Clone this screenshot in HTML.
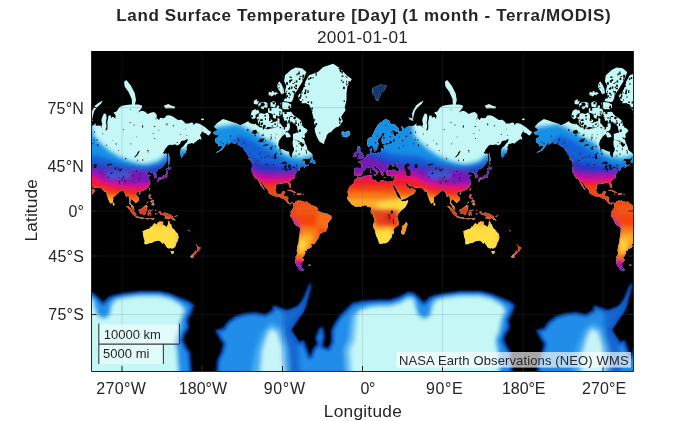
<!DOCTYPE html>
<html><head><meta charset="utf-8">
<style>
html,body{margin:0;padding:0;background:#fff;}
body{width:700px;height:421px;overflow:hidden;position:relative;font-family:"Liberation Sans",Arial,sans-serif;color:#262626;}
svg{position:absolute;left:0;top:0;}
text{font-family:"Liberation Sans",Arial,sans-serif;fill:#262626;}
</style></head>
<body>
<svg id="fig" width="700" height="421" viewBox="0 0 700 421">
<defs>
<clipPath id="mapclip"><rect x="91.5" y="51" width="542" height="320"/></clipPath>
<filter id="soft" x="0" y="0" width="100%" height="100%"><feGaussianBlur stdDeviation="0.55"/></filter>
</defs>
<rect x="91.5" y="51" width="542" height="320" fill="#000"/>
<g id="map" clip-path="url(#mapclip)"><g filter="url(#soft)">
<defs><clipPath id="land"><path d="M212.8 132.8L216.4 130.6L218.1 131.5L216.8 129.2L213.9 126.7L217.2 122.9L223.0 118.9L227.1 120.3L230.6 121.6L236.9 123.4L240.4 125.2L242.2 124.2L244.0 123.4L248.4 121.1L249.3 122.4L252.0 123.9L254.7 122.9L260.0 127.6L264.5 127.6L266.3 128.5L268.0 126.7L271.6 127.4L275.2 127.4L277.0 126.2L277.0 122.4L277.8 117.2L280.1 119.7L280.5 123.4L282.3 126.2L284.1 127.4L285.0 128.5L286.3 123.7L289.4 122.9L290.1 126.2L289.4 129.7L287.6 131.3L285.9 131.3L285.0 134.1L282.3 136.2L281.4 137.2L279.6 140.1L278.7 142.0L278.3 144.6L278.7 145.9L280.1 148.9L282.3 148.9L284.1 150.0L286.8 151.3L289.2 151.8L289.4 155.1L290.3 156.6L291.2 157.6L292.1 156.9L292.1 154.4L292.5 152.8L293.9 150.5L293.9 148.1L293.0 146.4L292.5 142.5L293.1 139.3L295.1 139.7L298.3 141.0L300.5 142.0L300.1 144.6L301.9 146.9L303.7 146.0L304.1 144.6L305.1 143.0L306.8 146.4L307.5 149.7L309.0 151.3L310.8 152.5L311.7 153.6L312.6 155.1L312.6 156.6L311.3 157.4L309.0 159.1L306.4 159.1L303.3 159.1L302.4 160.4L301.0 161.4L299.2 163.6L300.6 162.8L302.8 160.8L305.2 160.9L304.6 162.1L304.4 163.4L305.5 164.7L307.7 165.0L309.0 164.1L308.6 165.4L305.9 166.5L304.0 168.0L303.7 166.6L305.0 165.5L302.8 166.3L301.0 167.2L299.9 167.7L299.5 169.1L300.1 170.0L298.8 170.4L296.6 171.3L296.4 172.5L295.7 173.2L295.2 174.3L294.8 175.5L295.2 177.5L294.2 178.1L293.0 178.9L291.9 179.6L291.2 180.1L290.1 181.4L290.0 182.6L290.8 184.5L291.1 186.2L291.0 187.6L290.3 187.9L289.6 186.9L288.8 185.2L288.7 184.0L287.5 183.0L286.1 182.9L284.1 182.6L282.9 183.8L281.4 183.7L278.9 183.3L278.0 183.7L275.8 185.2L275.9 187.1L275.3 190.7L275.9 192.3L276.9 193.6L278.4 194.6L280.7 194.1L281.9 193.0L281.9 191.9L282.7 191.6L285.0 191.4L285.2 192.3L284.5 193.3L284.1 194.2L283.9 195.2L283.5 196.7L285.9 196.6L287.6 196.7L288.4 197.5L288.1 198.9L287.9 200.2L287.9 201.1L288.5 202.0L289.4 202.9L290.3 203.1L291.3 202.6L292.2 202.5L293.6 203.3L294.0 203.7L293.5 204.0L292.8 203.6L292.5 202.9L291.7 202.9L290.9 203.7L291.0 204.4L290.4 204.6L289.8 204.0L289.0 203.7L288.0 203.4L286.8 202.2L286.0 201.6L286.0 201.0L284.3 199.3L282.5 198.8L280.3 197.8L278.7 196.6L277.8 196.4L276.5 196.8L273.5 195.8L271.4 194.7L269.6 193.7L268.3 192.4L268.7 191.4L267.7 189.7L266.3 188.2L265.0 187.4L263.7 185.1L262.5 184.0L261.4 181.6L260.2 181.1L260.2 181.9L260.9 183.5L262.0 185.0L263.1 187.0L263.9 188.8L264.9 189.7L264.6 190.0L264.0 189.4L262.7 188.5L262.4 187.0L261.4 186.2L260.0 185.2L260.7 184.4L259.3 183.0L258.6 181.0L258.1 180.1L256.9 178.7L255.1 178.2L253.9 175.9L253.3 174.6L252.2 172.9L251.6 171.6L251.9 169.9L251.6 168.7L252.0 166.6L252.0 164.5L251.4 161.6L252.9 161.7L253.3 163.0L253.4 161.4L252.8 160.4L251.6 159.4L250.2 158.3L248.9 157.6L248.4 155.8L247.1 154.4L246.4 153.1L245.8 151.8L244.4 150.5L243.5 148.1L242.2 146.9L240.9 146.7L239.5 145.5L238.0 144.5L236.0 143.8L234.2 143.8L232.7 142.9L231.5 142.0L230.3 142.9L229.4 143.8L227.2 145.2L227.9 142.9L229.0 141.6L227.5 142.0L226.6 143.4L225.7 144.6L224.8 145.9L223.5 148.1L221.3 150.5L219.0 151.6L217.2 152.4L215.9 152.7L217.2 151.4L219.5 150.5L221.7 148.1L222.6 146.0L221.3 145.9L219.9 146.0L218.1 146.2L218.1 143.8L215.9 142.9L215.0 140.1L215.7 138.2L218.1 137.2L219.0 135.3L217.2 134.9L215.1 135.1L214.1 133.7ZM252.5 161.6L251.1 161.2L248.6 159.3L248.1 158.3L249.8 158.7L251.6 160.1ZM309.7 162.6L311.7 162.6L313.5 163.6L315.3 163.8L315.5 162.6L314.8 161.3L314.4 160.2L312.9 159.5L312.6 158.0L313.0 157.1L311.9 157.7L311.0 159.7L309.9 161.4ZM286.8 191.0L288.5 189.9L290.3 189.8L292.1 190.4L293.9 191.2L295.2 192.1L296.4 192.6L295.2 192.9L293.3 192.9L293.7 192.2L292.5 191.7L290.8 190.9L289.4 190.6L288.1 190.8ZM296.2 194.3L297.4 194.5L298.8 195.0L300.1 194.4L301.5 194.3L301.0 193.5L299.7 193.0L298.3 192.9L297.2 192.9L297.7 193.7L297.0 194.1ZM292.7 194.4L293.9 194.9L294.6 194.7L293.9 194.2ZM302.6 194.7L304.0 194.7L304.0 194.2L302.6 194.2ZM250.7 116.9L252.9 119.2L255.1 118.3L257.8 114.0L259.6 112.4L258.2 109.8L254.7 109.2L252.0 110.8L250.9 114.0ZM257.8 122.4L259.1 124.9L261.8 126.2L266.3 125.7L268.9 124.9L272.1 123.4L272.5 120.3L269.4 118.3L268.9 114.0L267.2 112.4L264.5 114.0L260.9 113.0L257.8 114.6L256.5 118.1L257.8 120.3ZM272.9 117.5L275.6 118.9L276.5 114.6L275.6 111.5L272.9 111.5L271.6 114.0ZM277.4 116.3L279.6 116.3L281.9 114.0L281.4 110.8L278.3 110.5L277.1 112.4ZM274.3 124.2L277.0 125.9L277.4 123.7L276.1 122.4ZM258.7 106.8L262.7 109.2L267.2 107.8L268.0 103.9L265.4 101.7L260.9 102.0L258.2 103.9ZM270.7 106.8L275.2 107.5L276.1 102.8L273.4 100.9L270.3 102.8ZM276.5 108.5L279.2 108.5L279.2 105.4L277.0 105.4ZM280.5 108.2L284.1 109.2L289.4 109.2L291.2 107.5L291.2 104.6L287.6 102.4L283.2 102.0L280.5 102.8ZM304.6 140.3L303.7 138.2L305.0 137.2L304.6 134.1L306.4 132.4L307.7 130.6L305.9 128.5L303.7 127.4L301.9 123.7L301.4 121.1L299.2 118.9L296.1 116.9L293.0 114.6L291.2 111.8L286.8 112.1L282.3 111.5L282.7 116.3L283.6 119.7L285.9 121.9L287.2 122.4L289.4 122.4L291.7 121.6L293.0 122.9L294.8 124.2L297.0 126.2L297.4 129.2L297.4 130.8L296.1 133.0L293.0 134.1L293.9 135.5L296.1 134.9L298.3 137.2L299.7 138.5L301.0 139.3L303.2 140.3L301.5 136.8L303.7 138.2ZM285.0 133.7L286.3 137.2L288.1 137.6L290.8 136.8L290.3 135.1L288.1 132.4L286.3 131.9ZM291.2 102.0L287.6 101.7L283.6 100.9L285.0 98.1L286.8 96.0L285.0 91.5L286.3 85.6L284.1 81.2L285.0 75.2L291.2 69.8L295.7 67.6L301.9 68.3L306.4 71.9L303.7 79.5L301.0 84.0L297.4 90.1L294.8 93.8L293.4 97.7L292.5 100.5ZM277.4 87.6L281.4 94.2L284.1 93.3L283.6 88.6L281.4 84.0L279.2 81.2L277.4 84.5ZM268.5 95.1L271.6 96.4L274.3 94.7L277.0 96.0L277.8 93.3L275.2 91.5L272.5 90.1L268.9 91.5ZM253.8 103.9L257.3 104.6L259.1 100.9L256.5 98.9L253.8 100.9ZM323.3 144.1L321.5 142.7L319.7 142.0L317.9 139.1L316.4 135.7L315.1 131.9L314.6 128.5L316.2 125.7L313.9 123.7L314.4 121.1L313.5 118.3L312.6 114.6L311.3 109.2L309.0 104.6L305.5 103.2L301.5 103.2L299.2 99.3L297.4 95.1L301.9 91.5L303.7 87.6L305.5 81.2L309.0 75.2L317.9 71.9L323.3 66.9L333.1 63.8L340.2 68.3L346.5 75.2L351.8 78.9L347.4 86.6L346.5 93.8L346.5 100.1L344.7 107.5L345.6 110.2L342.9 114.0L341.1 116.9L342.9 121.1L341.1 123.4L339.3 126.2L335.8 127.4L333.1 129.7L331.3 131.9L329.0 132.8L326.9 135.1L326.0 138.2L324.6 141.0L324.2 143.4ZM341.1 133.0L342.9 131.1L344.7 132.6L346.5 131.5L348.2 130.8L349.6 131.3L350.4 134.1L349.1 135.7L346.0 137.4L343.8 136.6L342.3 136.6L342.9 134.9L341.1 134.3L342.4 133.4ZM258.2 122.9L261.8 128.1L268.0 129.0L275.2 127.8L277.8 126.2L277.0 121.1L272.5 122.4L268.9 124.2L261.8 124.9ZM293.0 138.9L298.3 141.4L301.0 142.9L304.6 144.1L305.0 142.0L303.7 139.1L300.1 137.8L296.6 134.5L293.0 133.7ZM268.0 112.4L277.0 115.5L282.3 112.4L282.3 108.8L276.1 107.8L268.0 108.2ZM294.0 203.7L295.1 202.6L295.7 201.3L296.6 201.0L298.1 200.4L298.8 199.9L298.8 201.1L298.5 202.5L299.2 202.5L299.2 201.3L300.1 200.7L300.3 200.1L301.5 200.9L301.9 201.6L303.7 201.5L305.0 201.9L307.3 201.4L307.7 202.2L308.3 203.4L309.9 203.8L311.3 205.4L313.5 205.7L314.8 206.1L316.2 207.0L317.1 207.4L317.9 209.4L317.9 210.7L319.3 211.2L319.7 211.7L321.5 211.9L322.8 213.1L325.1 213.5L326.9 213.5L328.2 214.3L329.4 215.3L331.0 215.6L331.5 217.3L331.3 219.1L330.0 220.4L329.1 221.6L328.2 222.7L327.7 224.5L327.7 226.8L327.1 228.7L326.1 230.9L325.1 232.1L323.7 232.1L322.7 232.4L321.2 233.0L319.9 234.2L319.2 235.5L319.1 237.3L317.9 238.8L316.6 240.6L315.7 242.2L314.8 243.5L313.6 244.2L312.2 244.1L310.5 243.3L311.4 244.9L311.7 246.1L311.1 247.7L309.0 248.6L307.2 248.8L307.0 250.5L305.5 251.1L304.6 251.1L305.6 252.9L304.6 253.9L304.1 256.0L302.5 257.0L302.4 258.0L303.7 259.2L303.9 260.2L302.4 261.9L301.0 263.7L301.5 265.9L300.6 266.2L299.2 268.1L298.3 267.6L297.0 266.6L296.1 264.7L295.4 262.6L295.2 259.9L296.1 258.3L295.2 257.3L296.6 255.4L297.4 252.3L296.7 251.1L296.9 249.4L297.2 246.8L297.7 244.9L298.6 242.7L298.8 240.1L298.9 238.0L299.3 236.0L299.7 234.0L299.8 232.1L300.0 230.1L299.9 227.7L298.9 226.8L297.4 226.0L295.5 224.9L294.4 223.4L293.7 221.8L292.8 220.0L292.1 218.3L291.3 217.1L290.1 216.4L290.1 215.0L290.9 214.0L291.2 213.2L290.4 213.0L290.5 211.9L291.2 210.9L291.2 210.2L292.2 209.8L292.5 208.8L293.4 208.6L293.7 207.6L293.4 206.1L293.5 204.9L293.1 204.6L293.5 204.0ZM301.4 266.5L299.7 266.9L299.2 268.4L298.3 268.9L300.1 270.2L301.9 270.9L303.7 270.2L304.4 269.5L302.8 268.4L301.7 267.2ZM307.9 265.0L309.5 264.4L311.0 264.9L309.9 265.9L308.3 265.7ZM357.7 176.5L356.9 176.0L355.9 175.2L354.5 175.5L354.7 173.9L354.1 173.5L354.6 172.0L354.7 170.6L354.2 168.5L355.0 168.0L357.3 167.7L359.1 167.9L361.2 167.9L361.4 166.4L361.4 164.5L360.5 163.2L358.7 162.4L358.3 161.6L359.8 161.0L360.7 161.3L361.1 159.8L362.6 160.1L363.9 159.0L364.1 158.0L365.4 157.4L366.1 156.6L366.7 155.1L367.8 154.5L368.8 154.5L369.6 154.1L370.3 153.6L370.2 152.2L369.9 151.3L369.8 149.2L371.0 148.6L371.9 147.7L371.7 150.2L371.2 151.6L371.4 152.8L372.1 153.6L373.2 153.3L374.5 152.8L375.2 153.8L376.8 153.1L378.8 152.4L379.2 153.0L380.3 152.5L381.2 151.0L381.2 149.7L381.7 148.1L382.6 147.7L383.2 148.9L383.9 148.9L384.2 146.9L383.4 145.9L383.4 145.2L384.5 144.8L386.1 144.6L387.5 144.6L388.3 143.9L389.2 143.8L388.1 142.5L386.6 142.9L384.8 143.4L383.0 143.9L382.1 143.0L381.6 142.0L381.7 138.2L382.6 136.6L384.3 134.5L385.1 134.1L384.1 132.4L382.3 132.8L381.7 135.1L380.6 136.6L379.0 138.2L377.9 139.3L377.8 142.5L379.2 143.8L378.6 145.0L377.5 146.4L377.1 149.4L376.4 150.2L375.2 151.3L374.1 151.4L373.9 149.7L373.2 147.7L372.5 145.9L372.0 143.9L371.0 145.5L369.6 147.1L368.4 147.1L367.6 145.5L367.2 143.0L367.0 141.0L367.9 139.1L369.6 137.6L371.8 137.0L372.7 134.5L374.1 131.9L375.3 129.0L376.8 126.7L378.1 124.4L379.4 123.2L381.7 121.9L383.4 120.3L385.5 119.2L387.5 119.7L390.1 121.3L389.2 123.2L391.9 123.9L394.6 124.4L397.3 126.9L399.0 129.2L399.0 131.5L396.8 131.7L393.7 130.4L391.5 129.7L393.2 132.8L393.5 135.3L395.9 136.6L396.2 134.1L398.6 134.9L398.1 132.8L399.9 131.1L401.7 131.9L402.0 129.7L401.5 126.7L401.1 125.7L403.5 127.4L403.9 129.7L405.3 128.1L407.9 126.4L410.6 126.2L412.0 126.2L414.2 125.2L416.4 123.2L416.4 125.7L420.0 125.4L422.2 126.2L423.1 123.7L422.2 121.1L422.6 118.3L424.0 114.9L424.9 113.3L427.1 114.6L427.4 118.3L426.7 122.4L427.4 126.2L426.2 130.8L428.0 129.7L428.4 126.2L428.0 122.4L428.9 118.3L429.3 115.5L431.6 115.5L432.0 118.3L432.9 116.9L434.7 116.9L436.0 118.9L436.5 115.5L434.2 112.4L437.4 111.5L440.0 107.5L442.7 105.7L447.2 105.0L451.6 104.6L455.4 104.6L458.7 104.6L461.4 105.0L463.2 106.1L462.3 108.2L458.7 112.4L460.5 111.5L463.2 110.8L465.9 111.8L468.5 114.0L472.1 112.4L474.8 112.1L477.5 114.6L477.5 118.1L479.7 120.0L481.0 117.8L483.7 118.3L485.5 118.1L487.3 115.5L489.9 115.2L492.6 116.0L496.2 118.3L498.8 120.0L502.4 119.7L505.1 121.9L506.0 123.4L509.5 123.4L512.2 122.4L514.0 122.9L514.0 124.9L516.7 122.9L520.2 123.7L522.9 125.2L525.6 126.9L527.4 128.5L530.0 130.8L532.1 131.9L530.9 134.1L529.6 135.5L528.2 134.9L526.5 133.2L524.7 133.0L523.8 131.3L522.0 133.0L521.1 135.1L520.7 134.7L522.0 137.8L522.3 139.7L520.2 139.1L518.4 140.5L516.2 142.0L514.3 143.8L512.7 142.9L510.4 143.8L508.6 144.1L507.9 145.9L507.3 147.6L507.8 149.7L506.9 150.5L506.9 152.4L505.1 153.6L504.9 154.8L503.7 155.5L503.0 157.3L502.1 158.0L501.5 155.8L501.2 153.6L501.2 151.3L501.5 148.9L502.4 147.6L504.2 146.2L506.0 143.8L507.8 142.0L508.6 139.5L507.8 139.1L505.5 140.6L504.6 140.6L502.4 141.0L500.6 144.1L499.7 144.8L497.1 145.5L496.9 144.5L495.3 144.5L492.6 145.0L490.1 144.8L488.1 146.2L485.5 149.7L484.6 152.1L483.7 152.5L485.0 154.1L486.8 153.3L488.1 154.7L487.7 156.6L488.1 158.0L487.5 160.8L486.4 162.8L485.5 164.1L483.7 166.4L481.9 168.2L480.1 168.4L479.0 169.1L478.3 169.7L478.1 170.9L476.6 172.0L476.1 173.0L476.9 173.8L477.8 175.5L477.9 177.1L477.5 177.6L476.4 178.0L475.0 178.2L475.1 176.9L475.3 175.5L475.3 174.8L473.9 174.3L474.2 172.9L473.3 172.2L471.7 172.7L470.9 173.3L470.8 172.0L471.2 171.1L470.3 171.1L469.1 172.2L467.7 173.0L467.4 173.8L468.1 174.3L468.5 174.9L469.9 174.7L471.7 175.2L470.8 175.8L469.7 176.6L468.8 177.8L469.7 179.3L470.3 180.3L471.0 181.2L471.0 182.0L470.1 182.6L471.2 183.1L470.9 184.5L470.1 185.0L469.3 186.7L468.7 187.7L467.7 188.5L466.5 189.6L465.0 190.2L464.3 190.6L462.8 191.1L461.4 191.5L460.9 192.5L460.4 192.4L460.3 191.4L459.2 191.2L458.1 191.7L457.5 192.5L456.7 193.9L457.5 195.2L458.3 196.1L459.1 196.7L459.8 198.6L459.8 200.2L458.7 201.3L457.8 201.7L457.4 202.5L455.9 203.3L456.1 202.0L455.2 201.6L454.3 201.0L453.8 200.1L452.5 199.6L452.4 198.9L451.8 198.9L451.5 200.2L451.0 201.6L451.0 202.8L451.6 203.4L452.1 204.6L452.9 204.9L453.7 205.5L454.6 206.7L454.6 207.9L455.4 209.7L455.0 209.8L453.6 209.0L452.8 208.3L452.1 207.0L451.9 206.2L451.8 205.2L450.7 204.3L450.1 203.8L450.3 202.0L450.4 199.9L449.9 198.4L449.6 197.0L449.5 196.1L448.8 195.6L448.0 196.3L447.3 196.7L446.5 196.6L446.6 195.2L446.0 193.7L445.3 192.7L444.5 191.4L444.3 190.6L443.1 190.3L442.7 191.0L441.4 191.2L440.0 191.4L439.8 192.3L439.0 193.0L438.1 193.7L436.7 195.0L435.8 195.7L434.9 196.4L434.1 197.0L433.8 198.4L434.1 199.2L433.6 200.7L433.7 201.8L433.1 202.8L432.2 203.0L431.6 203.8L430.8 202.9L430.4 202.0L429.8 200.7L429.2 199.4L428.7 197.9L428.3 197.0L427.7 195.6L427.4 193.7L427.3 191.7L427.1 190.7L426.7 191.7L425.8 192.1L424.0 190.7L424.9 190.0L423.5 189.4L422.6 189.0L422.2 188.2L420.4 187.7L418.0 187.9L416.0 187.7L414.0 187.4L413.3 186.2L412.7 185.8L411.1 186.4L409.7 186.0L408.4 185.2L407.8 184.1L407.1 183.0L405.7 183.0L405.3 183.6L405.8 184.7L406.7 186.0L407.1 186.6L407.5 187.8L408.1 187.4L408.4 187.0L408.6 188.0L408.2 188.5L409.3 188.8L411.0 188.7L412.0 187.7L412.7 186.8L412.8 188.0L413.3 189.0L414.7 189.3L415.8 190.4L414.9 192.3L413.9 193.1L413.6 193.9L411.8 195.1L410.6 195.6L408.8 196.3L407.9 197.2L406.3 197.9L404.8 198.7L402.6 199.5L401.2 199.6L400.7 197.7L400.4 195.7L399.3 194.2L398.3 192.6L397.4 191.4L396.9 189.9L396.4 188.9L395.5 187.5L395.0 186.8L394.1 185.5L393.7 184.8L393.7 183.5L393.2 184.7L393.1 185.3L392.4 184.5L391.7 183.5L391.5 183.0L391.3 181.6L392.4 181.8L393.2 181.4L393.7 180.0L394.1 178.9L394.4 177.1L394.8 175.9L394.1 175.9L393.3 175.7L392.5 176.4L391.7 176.6L390.6 175.8L389.9 175.6L389.5 176.2L388.4 175.9L387.6 175.8L386.9 175.5L386.7 174.6L386.1 173.9L386.4 173.0L385.8 172.0L386.6 171.6L387.5 171.6L388.3 171.6L388.8 171.1L388.3 170.8L389.2 170.6L390.8 170.3L392.4 169.7L393.9 169.7L394.8 170.5L396.4 170.9L397.9 170.9L399.6 170.2L399.5 169.1L398.1 168.0L396.8 166.8L395.9 166.4L395.5 165.6L396.2 165.0L396.5 164.1L397.5 163.3L396.4 163.2L395.0 163.8L393.7 164.3L393.9 165.4L395.0 165.6L393.7 166.3L392.6 166.8L392.4 166.0L391.5 165.5L392.4 164.7L391.0 164.3L389.9 164.1L389.0 165.2L388.9 166.0L388.0 167.0L387.5 168.2L387.0 169.1L387.5 169.9L388.3 170.6L387.0 171.0L386.1 171.6L385.8 171.2L384.8 171.0L384.2 171.2L383.7 172.0L383.4 171.7L382.8 171.5L382.7 172.6L383.2 173.1L383.0 173.5L383.9 174.1L383.6 174.6L383.0 174.5L383.2 175.9L382.6 176.0L382.1 175.5L381.5 174.8L381.7 174.1L382.8 174.1L381.7 173.9L381.2 173.2L380.5 172.6L379.9 171.6L379.8 170.5L379.6 169.7L378.5 169.0L377.1 167.9L376.0 167.0L375.3 165.6L374.8 165.2L373.5 165.5L373.5 166.8L374.5 167.7L375.2 169.2L376.9 169.8L376.8 170.4L377.6 170.8L379.0 171.9L378.5 172.2L377.8 171.5L377.3 172.3L377.7 173.2L376.9 174.1L376.5 174.3L376.6 173.2L376.1 171.9L375.2 171.1L374.1 170.6L373.4 169.9L372.3 169.1L371.9 168.5L371.6 167.4L370.4 166.8L369.8 167.4L369.0 167.6L368.0 168.4L367.3 168.1L366.0 167.9L365.2 168.8L365.4 169.8L364.5 170.4L363.3 170.9L362.7 172.0L362.2 172.6L362.7 173.5L362.1 174.1L361.6 174.8L360.7 175.7L359.4 175.8L358.6 175.8ZM357.4 159.3L359.4 159.0L361.4 158.4L363.7 157.9L363.4 157.3L364.0 155.7L362.8 155.1L362.5 154.2L362.3 152.8L361.2 152.1L360.7 150.7L359.6 150.5L360.7 148.1L359.4 147.7L359.8 146.2L358.0 146.2L357.0 148.1L357.6 149.7L357.0 150.8L358.0 151.8L358.2 152.5L359.4 152.2L359.8 153.6L359.8 154.5L358.5 154.7L358.8 156.1L357.9 156.9L359.4 157.4L358.7 157.9L357.9 158.8ZM353.6 157.1L355.2 156.9L356.9 156.3L357.2 154.4L357.6 153.0L357.0 151.8L355.4 151.8L354.9 152.8L353.6 153.3L354.0 154.7L353.3 156.3ZM373.5 174.3L374.4 174.1L376.4 174.0L376.0 175.5L374.5 175.4ZM369.8 173.2L370.0 171.0L371.1 170.6L371.1 173.0L370.5 173.3ZM370.2 169.8L370.3 169.0L370.9 168.5L371.0 169.7L370.7 170.4ZM383.4 177.3L384.3 177.1L385.9 177.3L385.8 177.7L384.5 177.8L383.4 177.6ZM391.3 177.7L391.9 177.2L393.3 176.9L392.8 177.7L391.9 178.1ZM408.4 117.5L409.7 119.7L412.0 120.5L413.7 120.8L412.4 118.3L412.0 114.0L413.3 110.2L416.0 105.4L419.5 102.8L423.5 100.5L422.2 103.2L417.7 107.5L415.1 110.8L413.7 115.5L413.3 118.3ZM444.9 81.8L447.2 80.1L451.6 85.6L455.6 93.3L456.8 100.1L455.6 105.0L452.9 105.0L452.5 98.9L449.4 92.0L445.4 86.6ZM484.6 105.7L489.0 103.9L492.6 105.7L496.2 106.8L495.3 108.5L489.9 108.2L486.4 108.5ZM521.6 119.2L523.8 118.3L525.1 119.2L523.8 120.3L522.0 120.0ZM372.3 89.1L374.1 87.1L376.8 86.6L380.3 84.5L386.6 85.6L384.8 90.1L381.2 93.3L379.4 97.7L377.6 101.3L375.9 100.1L375.0 96.8L372.7 93.8ZM489.0 153.1L489.9 155.1L490.2 157.3L490.8 160.1L489.9 162.1L490.4 164.3L489.3 164.7L489.0 162.8L489.2 159.4L488.9 156.6L488.8 154.5ZM487.3 170.3L488.1 169.0L490.2 169.7L492.2 168.1L491.7 166.9L489.9 166.9L488.8 165.5L488.8 167.9L487.5 168.2L487.3 169.3ZM488.6 170.4L489.0 172.6L488.1 174.3L488.0 176.0L488.0 177.1L487.1 177.7L486.2 178.0L484.6 178.1L484.1 178.5L483.5 179.3L482.8 178.4L481.5 178.3L480.1 178.7L479.2 178.7L479.2 178.1L480.8 177.1L482.8 176.9L483.7 176.0L484.4 175.1L485.9 175.0L486.8 173.8L487.3 172.0L487.3 170.9ZM479.1 178.9L479.9 179.3L480.1 180.0L479.5 181.5L479.0 181.8L478.5 181.5L478.5 180.1L478.1 179.5ZM480.6 178.7L482.1 178.4L482.5 179.0L481.9 179.3L481.0 180.1L480.5 179.5ZM470.8 187.8L471.1 188.5L470.3 190.7L469.7 190.3L469.6 189.4L470.2 188.2ZM459.4 193.5L460.1 192.8L461.2 192.8L461.4 193.3L460.7 194.2L459.6 194.4ZM433.6 202.3L434.1 202.5L434.9 203.4L435.4 204.6L435.1 205.3L434.2 205.6L433.8 205.5L433.6 204.3ZM469.9 194.2L471.2 194.3L471.5 195.6L470.9 196.7L471.2 198.2L473.0 198.6L473.0 199.5L472.1 198.9L471.2 198.6L470.6 198.7L470.0 198.1L469.6 197.7L469.4 196.4ZM471.2 204.7L472.6 204.0L472.8 203.2L474.3 202.3L475.0 203.4L475.0 205.2L474.5 205.6L474.2 204.9L473.2 205.4L473.0 204.7L471.9 204.6ZM471.2 201.6L472.1 200.6L473.0 200.7L474.3 199.8L474.3 201.1L473.9 201.9L472.8 201.9L472.3 202.6L471.7 202.2ZM467.0 203.5L469.0 201.3L469.2 201.7L467.5 203.4ZM459.6 209.7L460.2 209.2L461.6 209.3L461.7 208.7L463.2 208.1L464.1 207.0L465.4 206.3L466.5 204.7L467.4 205.4L468.7 206.4L467.7 207.0L467.5 207.9L467.7 209.0L468.5 210.1L467.4 210.4L467.2 211.6L466.3 212.3L466.3 213.7L465.9 214.4L464.6 214.7L463.2 213.9L462.1 214.1L460.7 213.6L460.5 212.3L459.6 211.4L459.6 210.6ZM447.4 206.0L449.4 206.3L450.1 207.2L451.6 208.3L452.5 209.0L454.3 210.3L455.0 211.4L455.6 212.3L457.0 213.5L457.0 214.6L456.9 216.2L455.8 216.3L454.7 215.4L453.7 214.6L452.5 213.2L451.9 211.9L450.7 210.7L450.5 209.5L449.4 208.8L448.5 207.6L447.4 206.5ZM456.2 217.1L457.1 216.3L459.2 216.8L461.0 216.9L462.9 217.2L464.5 217.9L464.5 218.7L462.3 218.5L460.5 218.2L458.7 218.0L457.4 217.6ZM465.0 218.3L466.0 218.4L467.5 218.4L468.5 218.6L470.3 218.6L472.1 218.4L473.4 218.4L475.2 218.5L475.7 218.8L473.9 219.5L472.6 220.2L473.0 219.3L471.2 219.0L469.4 219.1L468.5 219.6L467.2 219.1L465.9 219.0ZM468.5 214.1L469.0 215.9L469.8 215.9L469.7 213.7L470.3 213.4L470.8 215.0L471.7 215.5L472.3 214.7L471.2 213.7L471.2 212.6L472.3 211.8L470.8 211.8L469.6 211.7L469.5 210.6L470.8 210.5L472.6 210.6L473.9 209.7L473.6 209.5L472.1 210.1L470.3 209.8L469.4 210.2L469.0 211.4L468.4 213.2ZM476.1 209.2L476.6 209.9L477.2 210.1L476.6 210.7L476.6 211.6L476.1 210.6ZM475.0 213.9L476.6 213.5L479.1 213.9L477.9 214.1L476.6 214.2ZM479.2 211.7L480.6 211.4L481.9 211.7L482.2 213.2L482.8 213.9L484.1 213.0L485.5 212.4L488.1 213.3L490.8 214.4L492.4 215.3L492.6 215.9L493.9 216.4L494.2 217.3L493.5 217.3L494.4 218.6L496.2 220.0L496.8 220.3L495.3 220.2L493.9 220.0L492.6 218.6L491.3 217.9L490.4 218.6L489.9 219.2L488.1 219.1L486.8 218.2L485.5 218.5L485.5 217.4L486.2 217.3L486.2 216.5L485.5 215.9L483.7 215.1L482.4 214.6L481.0 214.6L480.8 213.9L480.1 213.5L481.5 213.2L481.2 213.0L480.1 212.8L479.2 212.2ZM494.8 215.9L496.2 215.9L497.5 215.5L498.1 214.7L498.2 215.5L497.1 216.4L495.7 216.6ZM357.2 176.8L357.8 176.8L359.4 177.5L360.7 177.6L362.5 176.8L363.8 176.0L365.2 175.7L367.0 175.7L368.7 175.5L370.5 175.2L371.6 175.2L372.3 175.5L371.9 176.2L372.0 177.1L371.5 178.4L372.1 179.1L372.7 179.6L374.1 179.9L376.0 180.5L376.4 181.4L378.1 182.0L379.6 182.6L380.3 181.9L380.3 180.7L381.7 179.9L383.0 180.2L384.8 181.1L386.6 181.6L388.3 182.0L389.7 181.5L390.6 181.4L391.3 181.6L391.5 183.0L391.6 184.2L392.4 185.4L393.2 187.0L393.7 188.2L394.2 189.4L395.3 190.9L395.6 192.3L395.8 193.9L396.8 194.7L397.4 196.6L398.0 197.3L399.0 197.9L400.4 199.3L401.0 199.8L401.1 200.6L402.2 201.6L403.5 201.3L405.3 201.0L407.1 200.6L408.1 200.2L408.1 201.6L407.5 202.9L406.6 204.7L405.7 206.5L404.4 207.9L403.0 209.0L401.7 209.9L400.4 211.4L399.5 212.6L398.6 213.4L397.9 214.6L397.4 215.5L397.2 216.8L397.7 217.7L397.6 219.1L398.3 220.4L398.7 222.2L398.8 224.1L398.3 225.4L396.8 226.6L395.5 227.3L394.6 228.3L393.6 229.1L393.5 230.1L394.0 231.4L394.1 233.0L392.4 234.3L391.6 235.0L391.8 236.5L391.4 237.8L390.3 238.8L389.4 240.3L387.9 241.9L386.6 242.8L385.3 243.3L383.4 243.3L382.1 243.5L380.3 244.1L379.3 243.6L378.8 242.7L378.7 241.1L377.9 239.6L377.2 237.6L376.1 236.0L375.7 234.0L375.4 232.1L375.2 230.6L374.1 228.7L373.2 226.8L373.0 225.4L373.6 223.6L374.7 221.8L374.6 220.4L374.3 218.9L373.5 216.8L373.4 215.9L372.7 214.6L371.2 213.1L370.5 211.7L371.0 210.6L371.1 209.2L371.1 208.1L370.3 207.1L369.2 207.1L367.8 207.2L366.8 205.8L365.5 205.3L363.8 205.5L362.5 206.0L360.7 206.7L359.4 206.4L357.6 206.4L355.6 207.1L354.3 206.0L352.7 204.9L351.4 204.2L350.7 203.1L350.3 202.2L349.1 201.2L348.2 200.2L347.6 199.3L346.9 197.8L347.8 196.6L348.2 194.7L348.0 193.3L347.4 191.9L348.1 190.4L348.4 189.2L349.3 187.5L350.7 185.5L352.3 184.5L353.6 183.5L353.9 182.4L353.8 181.4L354.9 179.5L356.1 179.0L356.9 177.9ZM406.3 222.0L407.1 223.1L407.5 225.0L406.8 225.9L406.6 227.3L405.7 229.7L405.1 232.1L404.4 234.0L402.8 234.6L401.7 234.0L401.1 232.1L401.4 230.6L402.1 229.2L401.9 227.8L402.0 225.9L403.5 225.3L404.6 224.3L405.5 223.1ZM463.4 231.1L463.8 232.6L463.6 234.0L464.3 235.5L464.3 237.0L465.0 239.0L465.6 240.9L465.2 242.7L465.1 243.6L466.3 244.3L467.7 244.3L469.0 243.5L470.8 243.1L472.6 243.1L473.4 242.2L474.8 241.4L476.6 241.1L477.9 240.7L479.4 240.6L480.6 241.1L481.7 241.7L482.4 242.5L483.2 244.1L483.7 243.3L485.0 242.2L485.2 244.3L485.8 243.8L485.9 245.0L486.8 245.4L487.3 247.1L488.6 248.1L490.4 248.6L491.5 247.7L492.9 248.8L494.2 247.7L496.0 247.1L496.3 245.4L496.9 244.1L497.4 242.6L498.4 241.1L498.8 239.6L499.4 237.5L499.0 235.5L498.8 234.0L497.5 233.0L496.9 231.9L495.7 231.1L495.3 229.7L493.9 228.7L492.9 228.1L492.6 226.8L492.1 225.4L492.0 224.3L491.0 223.9L490.5 223.1L490.2 221.8L489.6 220.7L489.0 221.3L488.8 222.7L488.7 224.5L488.1 225.9L487.3 227.0L486.4 226.3L485.3 225.4L484.0 224.8L483.2 224.3L483.7 223.1L484.4 222.0L483.5 221.8L482.2 221.8L480.8 221.2L479.7 222.0L478.8 222.2L478.3 223.1L477.9 224.3L476.8 224.4L476.1 223.6L474.8 223.6L473.9 224.7L473.3 225.7L472.6 226.7L471.5 226.6L471.4 227.6L470.8 228.3L469.4 229.1L467.7 229.6L466.3 229.9L465.0 230.6L464.1 231.1ZM491.4 250.9L493.0 251.2L494.6 251.0L494.7 252.6L493.9 253.9L492.6 254.1L491.9 252.7ZM516.4 243.8L517.6 244.9L518.4 246.0L519.2 246.5L519.8 247.4L521.1 247.2L521.4 248.3L520.2 249.3L520.0 250.5L518.7 251.8L518.3 251.5L518.4 250.2L517.6 249.4L518.3 248.6L518.2 247.1L517.7 246.0L516.7 244.5ZM516.5 250.5L517.7 251.5L517.4 252.7L516.4 254.1L515.1 255.1L514.7 257.0L513.5 258.0L512.2 257.8L510.9 257.0L511.8 255.7L512.9 254.6L514.4 253.5L515.3 252.3L515.9 251.1ZM508.6 229.4L510.0 230.4L511.3 231.5L510.9 231.5L509.5 230.6L508.6 229.8Z"/></clipPath>
<filter id="b2" x="-5%" y="-5%" width="110%" height="110%"><feGaussianBlur stdDeviation="2"/></filter>
<filter id="b1" x="-5%" y="-5%" width="110%" height="110%"><feGaussianBlur stdDeviation="1.1"/></filter>
</defs>
<g id="w">
<g clip-path="url(#land)">
<rect x="150" y="40" width="440" height="340" fill="#c4f7f5"/>
<g filter="url(#b2)">
<path d="M205.0 215.0L205.0 150.0L212.0 128.0L237.0 124.0L240.0 125.0L252.6 131.3L265.0 139.0L273.0 142.0L278.0 148.0L282.0 153.0L290.0 156.0L300.0 158.0L310.0 156.0L322.0 150.0L322.0 215.0Z" fill="#1690e6"/>
<path d="M205.0 215.0L205.0 160.0L225.0 150.0L232.0 140.0L240.0 135.0L252.0 140.0L265.0 148.0L278.0 156.0L290.0 163.0L300.0 165.0L310.0 163.0L322.0 158.0L322.0 215.0Z" fill="#1660d6"/>
<path d="M205.0 215.0L205.0 165.0L235.0 155.0L245.0 152.0L250.0 158.0L260.0 163.0L275.0 165.0L290.0 168.0L300.0 169.0L310.0 167.0L322.0 164.0L322.0 215.0Z" fill="#2236c4"/>
<path d="M205.0 215.0L205.0 172.0L240.0 160.0L248.0 163.0L252.0 168.0L260.0 171.0L275.0 172.0L290.0 172.0L300.0 171.0L308.0 168.0L322.0 166.0L322.0 215.0Z" fill="#7c18b6"/>
<path d="M205.0 215.0L205.0 178.0L240.0 168.0L250.0 170.0L255.0 174.0L265.0 176.0L280.0 176.0L293.0 175.0L300.0 174.0L322.0 172.0L322.0 215.0Z" fill="#d00a98"/>
<path d="M205.0 215.0L205.0 184.0L245.0 174.0L253.0 176.0L258.0 180.0L268.0 181.0L280.0 181.0L292.0 180.0L322.0 178.0L322.0 215.0Z" fill="#f01c2c"/>
<path d="M205.0 215.0L205.0 190.0L250.0 180.0L258.0 182.0L263.0 186.0L275.0 186.0L290.0 185.0L322.0 184.0L322.0 215.0Z" fill="#f4440e"/>
<path d="M352.0 250.0L352.0 118.0L400.0 112.0L408.0 112.0L412.0 125.0L415.0 137.0L421.5 143.5L429.0 150.0L437.5 155.5L446.0 159.5L455.0 162.5L465.0 164.5L472.0 163.0L479.0 161.0L484.0 157.0L488.0 153.0L495.0 150.0L505.0 149.0L512.0 151.0L520.0 150.0L545.0 150.0L545.0 250.0Z" fill="#1690e6"/>
<path d="M352.0 250.0L352.0 137.0L360.0 140.0L366.0 146.0L381.0 150.0L395.0 154.0L409.0 155.5L415.0 155.0L429.0 159.0L444.0 164.0L458.0 166.0L472.0 166.0L479.0 164.0L484.0 162.0L490.0 158.0L500.0 156.0L545.0 156.0L545.0 250.0Z" fill="#1660d6"/>
<path d="M352.0 250.0L352.0 147.0L364.0 151.0L374.0 155.0L388.0 160.0L402.0 163.0L416.0 164.0L429.0 166.0L444.0 168.0L458.0 169.0L469.0 169.0L478.0 167.0L490.0 163.0L545.0 162.0L545.0 250.0Z" fill="#2236c4"/>
<path d="M351.0 250.0L351.0 146.0L354.0 147.0L360.0 154.0L370.0 158.0L380.0 162.5L390.0 165.5L402.0 167.0L416.0 169.0L429.0 170.0L444.0 170.0L458.0 171.0L468.0 172.0L475.0 174.0L490.0 168.0L545.0 166.0L545.0 250.0Z" fill="#7c18b6"/>
<path d="M344.0 250.0L344.0 174.0L354.0 174.5L366.0 174.0L381.0 173.0L395.0 172.0L405.0 171.5L416.0 174.0L422.0 177.0L429.0 181.0L444.0 183.0L458.0 184.0L469.0 184.0L480.0 182.0L490.0 176.0L545.0 174.0L545.0 250.0Z" fill="#d00a98"/>
<path d="M344.0 250.0L344.0 177.5L354.0 177.5L374.0 177.5L388.0 177.0L402.0 176.5L416.0 178.5L422.0 182.0L429.0 185.0L444.0 187.0L458.0 188.0L468.0 187.0L480.0 186.0L545.0 184.0L545.0 250.0Z" fill="#f01c2c"/>
<path d="M344.0 250.0L344.0 186.5L374.0 186.5L388.0 186.5L402.0 187.0L416.0 187.5L424.0 188.5L432.0 191.0L444.0 193.0L458.0 194.0L475.0 193.0L545.0 191.0L545.0 250.0Z" fill="#f4440e"/>
<path d="M344.0 250.0L344.0 192.5L359.0 192.0L381.0 192.5L395.0 193.0L409.0 194.0L415.0 192.5L424.0 193.0L432.0 195.5L444.0 197.5L458.0 198.5L475.0 198.0L545.0 198.0L545.0 250.0Z" fill="#f87c16"/>
<path d="M344.0 250.0L344.0 200.0L359.0 199.5L381.0 200.5L395.0 201.0L410.0 201.0L425.0 198.5L432.0 199.0L440.0 201.0L450.0 203.0L545.0 203.0L545.0 250.0Z" fill="#fdb02a"/>
<path d="M240.0 186.0L340.0 186.0L340.0 280.0L240.0 280.0Z" fill="#f4440e"/>
<path d="M318.0 212.0L338.0 211.0L337.0 222.0L326.0 230.0L316.0 226.0Z" fill="#f87c16" opacity="0.75"/>
<path d="M296.0 204.0L320.0 204.0L320.0 214.0L296.0 214.0Z" fill="#f4641a" opacity="0.6"/>
<path d="M300.0 226.0L318.0 228.0L318.0 240.0L308.0 250.0L300.0 251.0L298.0 240.0Z" fill="#f87c16"/>
<path d="M300.0 234.0L312.0 234.0L312.0 242.0L306.0 252.0L299.0 254.0L297.5 242.0Z" fill="#fdb02a"/>
<path d="M298.5 240.0L305.0 240.0L305.5 247.0L302.0 254.0L298.5 254.0Z" fill="#ffde42" opacity="0.9"/>
<path d="M294.0 254.0L312.0 254.0L312.0 259.0L294.0 259.0Z" fill="#f87c16"/>
<path d="M292.0 258.5L312.0 258.5L312.0 262.0L292.0 262.0Z" fill="#f01c2c"/>
<path d="M292.0 261.0L312.0 261.0L312.0 266.0L292.0 266.0Z" fill="#d00a98"/>
<path d="M292.0 264.5L312.0 264.5L312.0 275.0L292.0 275.0Z" fill="#7c18b6"/>
<path d="M378.0 202.0L392.0 199.5L402.0 199.0L406.0 204.0L400.0 209.5L382.0 209.0L376.0 206.0Z" fill="#ffde42" opacity="0.9"/>
<path d="M346.0 206.0L372.0 207.0L372.0 214.0L352.0 213.0Z" fill="#f87c16"/>
<path d="M366.0 209.0L398.0 209.5L401.0 222.0L396.0 228.0L376.0 228.0L371.0 215.0Z" fill="#e8421a"/>
<path d="M384.0 214.0L392.0 213.0L394.0 221.0L387.0 224.0Z" fill="#c8202a" opacity="0.7"/>
<path d="M399.0 199.0L409.0 199.0L408.0 206.0L401.0 212.0L398.0 206.0Z" fill="#ffde42"/>
<path d="M370.0 227.0L398.0 227.0L396.0 246.0L372.0 246.0Z" fill="#fdb02a"/>
<path d="M371.0 231.0L394.0 230.0L394.0 240.0L386.0 247.0L375.0 243.0Z" fill="#ffde42"/>
<path d="M395.0 224.0L403.0 221.0L403.0 232.0L397.0 238.0L393.0 234.0Z" fill="#f4440e"/>
<path d="M402.0 222.0L410.0 222.0L410.0 238.0L402.0 238.0Z" fill="#f87c16"/>
<path d="M402.0 224.0L405.5 224.0L405.5 236.0L402.0 236.0Z" fill="#fdb02a"/>
<path d="M426.0 171.5L450.0 172.0L452.0 176.5L432.0 178.5Z" fill="#1660d6"/>
<path d="M428.0 198.0L440.0 198.0L438.0 208.0L430.0 208.0Z" fill="#fdb02a"/>
<path d="M440.0 205.0L520.0 205.0L520.0 226.0L440.0 226.0Z" fill="#e23a16"/>
<path d="M455.0 220.0L510.0 220.0L510.0 227.0L455.0 227.0Z" fill="#fdb02a"/>
<path d="M455.0 225.5L510.0 225.5L510.0 254.0L455.0 254.0Z" fill="#ffde42"/>
<path d="M498.0 234.0L504.0 234.0L504.0 250.0L498.0 250.0Z" fill="#f87c16" opacity="0.45"/>
<path d="M490.0 253.0L505.0 253.0L505.0 262.0L490.0 262.0Z" fill="#ec3c18"/>
<path d="M512.0 240.0L530.0 240.0L530.0 262.0L512.0 262.0Z" fill="#e8301c"/>
<path d="M340.0 129.0L351.0 129.0L351.0 139.0L340.0 139.0Z" fill="#1690e6"/>
<path d="M370.0 80.0L390.0 80.0L390.0 102.0L370.0 102.0Z" fill="#14386e"/>
<path d="M292.5 218.5L296 224L299.5 229.5" stroke="#7c18b6" stroke-width="2.6" fill="none" stroke-linecap="round"/>
</g>
</g>
<g filter="url(#b1)">
<path d="M216.0 375.0L217.0 360.0L221.0 352.0L223.0 344.0L219.0 338.0L215.0 330.0L223.0 328.0L227.0 322.0L235.0 316.0L245.0 313.0L255.0 312.0L265.0 314.0L272.0 310.0L273.0 305.0L279.0 307.0L287.0 310.0L293.0 308.0L298.0 305.5L301.5 301.0L304.0 296.0L306.5 290.0L309.0 284.5L311.0 283.0L311.5 287.0L310.0 292.0L308.5 298.0L306.5 305.0L303.5 312.0L299.0 318.0L295.0 324.0L291.0 330.0L295.0 336.0L299.0 342.0L304.0 340.0L307.0 348.0L310.0 356.0L313.0 348.0L317.0 344.0L315.0 338.0L319.0 328.0L323.0 327.0L325.0 336.0L323.0 346.0L328.0 348.0L331.0 342.0L331.0 330.0L335.0 322.0L340.0 315.0L346.0 309.0L352.0 303.0L360.0 301.0L370.0 300.0L380.0 299.5L390.0 299.5L400.0 296.0L408.0 291.5L414.0 292.5L420.0 298.0L424.0 302.0L429.0 297.0L434.0 295.0L444.0 293.0L460.0 291.0L480.0 291.0L490.0 293.0L500.0 297.0L510.0 301.0L515.0 305.0L513.0 312.0L509.0 320.0L510.0 328.0L506.0 334.0L504.0 340.0L508.0 348.0L511.0 352.0L513.0 375.0Z" fill="#0c48b4"/>
<path d="M217.7 373.4L511.3 373.4L509.4 352.6L506.7 349.0L506.6 348.8L506.6 348.7L502.6 340.7L502.5 340.6L502.5 340.4L502.4 340.3L502.4 340.1L502.4 340.0L502.4 339.8L502.4 339.6L502.5 339.5L504.5 333.5L504.5 333.4L504.6 333.2L504.7 333.1L508.3 327.6L507.4 320.2L507.4 320.0L507.4 319.9L507.4 319.7L507.5 319.6L507.5 319.4L507.6 319.3L511.5 311.4L513.2 305.6L509.2 302.4L489.5 294.5L479.8 292.6L460.1 292.6L444.3 294.6L434.5 296.5L429.9 298.4L425.1 303.1L425.0 303.2L424.9 303.3L424.8 303.4L424.6 303.5L424.5 303.5L424.3 303.6L424.2 303.6L424.0 303.6L423.8 303.6L423.7 303.6L423.5 303.5L423.4 303.5L423.2 303.4L423.1 303.3L423.0 303.2L422.9 303.1L418.9 299.2L413.3 294.0L408.3 293.2L400.8 297.4L400.7 297.5L400.5 297.5L390.5 301.0L390.4 301.1L390.2 301.1L390.0 301.1L380.0 301.1L370.1 301.6L360.3 302.6L352.8 304.4L341.2 316.0L336.4 322.8L332.6 330.4L332.6 342.0L332.6 342.1L332.6 342.3L332.5 342.4L332.5 342.6L332.4 342.7L329.4 348.7L329.4 348.9L329.3 349.0L329.2 349.1L329.0 349.2L328.9 349.3L328.8 349.4L328.6 349.5L328.5 349.5L328.3 349.6L328.2 349.6L328.0 349.6L327.9 349.6L327.7 349.6L327.6 349.5L327.4 349.5L322.4 347.5L322.3 347.4L322.1 347.3L322.0 347.2L321.9 347.1L321.8 347.0L321.7 346.9L321.6 346.8L321.5 346.6L321.5 346.5L321.4 346.3L321.4 346.2L321.4 346.0L321.4 345.8L321.4 345.7L323.4 336.0L321.8 329.0L320.2 329.4L316.7 338.1L318.5 343.5L318.6 343.6L318.6 343.8L318.6 344.0L318.6 344.1L318.6 344.3L318.5 344.4L318.5 344.6L318.4 344.7L318.3 344.9L318.2 345.0L318.1 345.1L314.4 348.9L311.5 356.6L311.4 356.7L311.4 356.8L311.3 357.0L311.2 357.1L311.1 357.2L310.9 357.3L310.8 357.4L310.7 357.5L310.5 357.5L310.4 357.6L310.2 357.6L310.1 357.6L309.9 357.6L309.8 357.6L309.6 357.6L309.5 357.5L309.3 357.5L309.2 357.4L309.1 357.3L308.9 357.2L308.8 357.1L308.7 357.0L308.6 356.8L308.6 356.7L308.5 356.6L303.1 342.1L299.6 343.5L299.4 343.5L299.3 343.6L299.1 343.6L299.0 343.6L298.8 343.6L298.7 343.6L298.5 343.5L298.4 343.5L298.2 343.4L298.1 343.3L298.0 343.2L297.9 343.1L297.8 343.0L297.7 342.9L289.7 330.9L289.6 330.8L289.5 330.6L289.5 330.5L289.4 330.3L289.4 330.2L289.4 330.0L289.4 329.8L289.4 329.7L289.5 329.5L289.5 329.4L289.6 329.2L289.7 329.1L297.7 317.1L297.7 317.0L302.1 311.2L305.0 304.5L307.0 297.6L308.4 291.6L308.5 291.5L309.9 286.9L309.8 286.5L308.0 290.6L305.5 296.6L305.4 296.7L302.9 301.7L302.9 301.9L302.8 302.0L299.3 306.5L299.2 306.6L299.1 306.7L299.0 306.8L298.8 306.9L298.7 306.9L293.7 309.4L293.5 309.5L287.5 311.5L287.4 311.6L287.2 311.6L287.0 311.6L286.9 311.6L286.7 311.6L286.6 311.5L286.4 311.5L278.5 308.5L274.2 307.1L273.6 310.3L273.5 310.5L273.5 310.6L273.4 310.7L273.3 310.9L273.3 311.0L273.2 311.1L273.0 311.2L272.9 311.3L272.8 311.4L265.8 315.4L265.6 315.5L265.5 315.5L265.3 315.6L265.2 315.6L265.0 315.6L264.8 315.6L264.7 315.6L254.9 313.6L245.3 314.6L235.7 317.5L228.2 323.1L224.3 328.9L224.2 329.0L224.1 329.1L224.0 329.2L223.9 329.3L223.8 329.4L223.7 329.5L223.5 329.5L223.4 329.6L217.3 331.1L220.4 337.2L224.3 343.1L224.4 343.3L224.5 343.4L224.5 343.6L224.6 343.7L224.6 343.9L224.6 344.1L224.6 344.2L224.6 344.4L222.6 352.4L222.5 352.6L222.4 352.7L218.6 360.4L217.7 373.4Z" fill="#0f62d0"/>
<path d="M219.8 371.4L509.1 371.4L507.5 353.3L505.1 350.2L504.9 349.9L504.8 349.6L500.8 341.6L500.6 341.3L500.5 341.0L500.5 340.6L500.4 340.3L500.4 339.9L500.4 339.5L500.5 339.2L500.6 338.9L502.6 332.9L502.7 332.6L502.8 332.3L503.0 332.0L506.3 327.1L505.4 320.4L505.4 320.1L505.4 319.7L505.5 319.4L505.5 319.0L505.6 318.7L505.8 318.4L509.6 310.7L510.9 306.3L508.2 304.1L489.0 296.5L479.6 294.6L460.2 294.6L444.6 296.6L435.0 298.5L431.0 300.1L426.5 304.5L426.3 304.8L426.0 305.0L425.7 305.2L425.4 305.3L425.0 305.4L424.7 305.5L424.4 305.6L424.0 305.6L423.6 305.6L423.3 305.5L423.0 305.4L422.6 305.3L422.3 305.2L422.0 305.0L421.7 304.8L421.5 304.5L417.5 300.6L412.4 295.9L408.7 295.3L401.8 299.1L401.5 299.3L401.2 299.4L391.2 302.9L390.8 303.0L390.4 303.1L390.0 303.1L380.1 303.1L370.3 303.6L360.6 304.6L353.8 306.3L342.8 317.3L338.1 323.9L334.6 330.8L334.6 342.0L334.6 342.3L334.5 342.7L334.5 343.0L334.4 343.3L334.2 343.6L331.2 349.6L331.0 349.9L330.8 350.2L330.6 350.5L330.3 350.7L330.1 350.9L329.8 351.1L329.4 351.3L329.1 351.4L328.8 351.5L328.4 351.6L328.1 351.6L327.7 351.6L327.3 351.5L327.0 351.5L326.7 351.3L321.7 349.3L321.3 349.2L321.0 349.0L320.7 348.8L320.5 348.6L320.2 348.3L320.0 348.0L319.8 347.7L319.7 347.4L319.6 347.1L319.5 346.7L319.5 346.6L316.1 350.0L313.4 357.3L313.2 357.6L313.1 357.9L312.9 358.2L312.6 358.4L312.4 358.7L312.1 358.9L311.8 359.1L311.5 359.3L311.2 359.4L310.9 359.5L310.5 359.6L310.2 359.6L309.8 359.6L309.5 359.6L309.1 359.5L308.8 359.4L308.5 359.3L308.2 359.1L307.9 358.9L307.6 358.7L307.4 358.4L307.1 358.2L306.9 357.9L306.8 357.6L306.6 357.3L301.9 344.7L300.3 345.3L300.0 345.5L299.7 345.5L299.3 345.6L299.0 345.6L298.6 345.6L298.3 345.5L297.9 345.4L297.6 345.3L297.3 345.2L297.0 345.0L296.7 344.8L296.4 344.5L296.2 344.3L296.0 344.0L288.0 332.0L287.8 331.7L287.7 331.4L287.6 331.0L287.5 330.7L287.4 330.4L287.4 330.0L287.4 329.6L287.5 329.3L287.6 329.0L287.7 328.6L287.8 328.3L288.0 328.0L296.0 316.0L296.1 315.8L300.4 310.2L302.1 306.0L300.8 307.7L300.6 308.0L300.4 308.2L300.2 308.4L299.9 308.6L299.6 308.7L294.6 311.2L294.1 311.4L288.1 313.4L287.8 313.5L287.5 313.6L287.1 313.6L286.8 313.6L286.4 313.6L286.1 313.5L285.7 313.4L277.8 310.4L275.7 309.7L275.5 310.7L275.4 311.0L275.3 311.4L275.2 311.7L275.0 312.0L274.8 312.2L274.6 312.5L274.3 312.7L274.1 312.9L273.8 313.1L266.8 317.1L266.5 317.3L266.1 317.4L265.8 317.5L265.4 317.6L265.0 317.6L264.7 317.6L264.3 317.5L254.8 315.6L245.7 316.5L236.6 319.3L229.7 324.5L226.0 330.0L225.8 330.3L225.6 330.5L225.3 330.7L225.1 330.9L224.8 331.1L224.5 331.3L224.2 331.4L223.9 331.5L220.2 332.4L222.1 336.2L226.0 342.0L226.2 342.3L226.3 342.7L226.5 343.0L226.5 343.4L226.6 343.8L226.6 344.1L226.6 344.5L226.5 344.9L224.5 352.9L224.4 353.2L224.2 353.6L220.5 361.0L219.8 371.4Z" fill="#238de8"/>
<path d="M320.1 342.0L321.3 336.0L320.7 333.4L318.8 338.1L320.1 342.0Z" fill="#238de8"/>
</g>
<clipPath id="antclip"><path d="M216.0 375.0L217.0 360.0L221.0 352.0L223.0 344.0L219.0 338.0L215.0 330.0L223.0 328.0L227.0 322.0L235.0 316.0L245.0 313.0L255.0 312.0L265.0 314.0L272.0 310.0L273.0 305.0L279.0 307.0L287.0 310.0L293.0 308.0L298.0 305.5L301.5 301.0L304.0 296.0L306.5 290.0L309.0 284.5L311.0 283.0L311.5 287.0L310.0 292.0L308.5 298.0L306.5 305.0L303.5 312.0L299.0 318.0L295.0 324.0L291.0 330.0L295.0 336.0L299.0 342.0L304.0 340.0L307.0 348.0L310.0 356.0L313.0 348.0L317.0 344.0L315.0 338.0L319.0 328.0L323.0 327.0L325.0 336.0L323.0 346.0L328.0 348.0L331.0 342.0L331.0 330.0L335.0 322.0L340.0 315.0L346.0 309.0L352.0 303.0L360.0 301.0L370.0 300.0L380.0 299.5L390.0 299.5L400.0 296.0L408.0 291.5L414.0 292.5L420.0 298.0L424.0 302.0L429.0 297.0L434.0 295.0L444.0 293.0L460.0 291.0L480.0 291.0L490.0 293.0L500.0 297.0L510.0 301.0L515.0 305.0L513.0 312.0L509.0 320.0L510.0 328.0L506.0 334.0L504.0 340.0L508.0 348.0L511.0 352.0L513.0 375.0Z"/></clipPath>
<g clip-path="url(#antclip)"><g filter="url(#b2)">
<path d="M284 312L300 306L306 300L306 330L298 345L300 376L284 376Z" fill="#0f5ccc" opacity="0.8"/>
<path d="M346 376L344 350L349 338L350 326L352 314L360 311L358 326L357 340L352 350L354 376Z" fill="#6cc0f0"/>
<path d="M251 376L256 348L263 331L271 323L281 328L288 348L290 376Z" fill="#46aeee"/>
<path d="M352.0 376.0L350.0 350.0L355.0 340.0L356.0 326.0L358.0 310.4L370.0 306.4L380.0 305.4L390.0 305.4L400.0 302.4L408.0 297.4L414.0 298.4L416.0 306.4L418.0 314.4L424.0 318.4L430.0 315.4L432.0 304.4L436.0 299.4L444.0 297.4L460.0 295.4L480.0 295.4L492.0 298.4L502.0 304.4L506.0 310.4L502.0 318.4L500.0 330.0L496.0 340.0L498.0 350.0L500.0 376.0Z" fill="#c4f7f5"/>
<path d="M270.5 329.0L277.0 332.0L282.0 348.0L284.0 376.0L260.0 376.0L262.0 352.0L266.0 338.0Z" fill="#c8f4f8"/>
</g></g>
<path d="M300.8 89.1h1.4v2.0h-1.4zM275.9 93.9h2.2v2.2h-2.2zM259.2 105.4h1.4v2.3h-1.4zM282.0 117.1h1.7v1.1h-1.7zM294.0 82.2h1.3v0.8h-1.3zM249.7 102.7h1.9v1.5h-1.9zM308.2 125.7h2.0v1.1h-2.0zM289.8 76.8h1.9v1.1h-1.9zM262.9 103.5h1.9v2.1h-1.9zM262.9 125.9h1.1v3.7h-1.1zM290.9 86.5h1.5v2.3h-1.5zM310.9 123.3h1.0v2.1h-1.0zM269.9 94.7h0.8v0.9h-0.8zM306.9 120.5h2.0v2.5h-2.0zM279.5 119.4h2.3v4.1h-2.3zM260.9 119.2h1.9v1.7h-1.9zM279.7 127.1h1.3v1.1h-1.3zM266.5 104.4h1.6v0.8h-1.6zM290.1 126.7h2.1v2.3h-2.1zM264.9 118.0h0.9v2.0h-0.9zM274.7 85.6h2.2v0.8h-2.2zM284.6 122.7h2.2v4.2h-2.2zM292.3 90.8h0.9v1.5h-0.9zM288.2 106.6h2.0v1.6h-2.0zM269.1 88.7h1.7v3.4h-1.7zM297.7 72.8h2.1v1.7h-2.1zM271.8 115.3h0.9v3.6h-0.9zM271.6 89.7h1.8v1.3h-1.8zM278.7 87.0h0.8v1.4h-0.8zM291.3 110.0h2.3v1.5h-2.3zM303.8 125.2h1.6v1.2h-1.6zM305.7 116.4h2.2v0.9h-2.2zM271.6 125.4h1.5v1.1h-1.5zM300.3 84.9h1.5v0.8h-1.5zM303.5 85.4h1.6v1.7h-1.6zM284.5 93.0h2.4v1.3h-2.4zM281.3 107.7h1.3v2.0h-1.3zM277.3 98.1h1.4v0.8h-1.4zM270.6 122.2h1.9v0.8h-1.9zM276.0 90.4h1.4v1.3h-1.4zM295.7 80.4h1.7v2.1h-1.7zM311.4 129.1h2.2v3.0h-2.2zM289.0 80.2h2.0v2.2h-2.0zM299.7 76.0h1.7v1.1h-1.7zM262.4 93.7h1.9v3.3h-1.9zM263.9 98.8h2.1v2.9h-2.1zM273.6 113.8h1.5v1.0h-1.5zM276.4 97.2h1.0v2.1h-1.0zM284.5 110.7h2.1v3.3h-2.1zM294.9 87.7h2.1v1.6h-2.1zM292.4 82.9h1.8v0.8h-1.8zM257.7 107.3h2.3v1.0h-2.3zM256.2 109.0h1.3v1.3h-1.3zM285.2 120.6h1.8v1.9h-1.8zM280.1 104.4h1.9v4.2h-1.9zM278.9 111.5h2.2v0.9h-2.2zM294.9 123.1h1.2v1.3h-1.2zM294.8 100.5h2.4v1.9h-2.4zM295.3 84.7h1.8v2.0h-1.8zM288.1 92.8h2.1v1.2h-2.1zM272.8 90.0h1.8v1.3h-1.8zM270.7 114.2h2.2v1.5h-2.2zM297.1 93.9h1.9v1.7h-1.9zM299.0 78.5h1.5v0.8h-1.5zM262.4 102.5h1.6v3.8h-1.6zM262.6 96.6h2.3v1.9h-2.3zM251.0 115.3h1.9v2.0h-1.9zM269.6 107.6h1.8v3.2h-1.8zM255.7 98.0h1.8v1.2h-1.8zM281.8 114.9h1.1v1.2h-1.1zM306.4 120.7h1.2v2.3h-1.2zM275.2 96.9h1.1v1.9h-1.1zM281.1 101.5h1.0v3.6h-1.0zM302.4 78.5h1.4v2.3h-1.4zM260.5 91.2h0.9v1.1h-0.9zM293.8 94.6h1.5v2.2h-1.5zM256.7 113.8h1.7v3.2h-1.7zM264.4 115.0h1.6v1.4h-1.6zM283.4 94.1h2.2v1.8h-2.2zM258.9 121.4h1.1v3.3h-1.1zM257.7 118.5h0.9v1.8h-0.9zM281.4 121.6h2.0v1.8h-2.0zM295.4 120.3h1.1v1.4h-1.1zM266.7 127.5h1.9v1.8h-1.9zM278.4 84.1h0.9v1.1h-0.9zM312.0 128.4h0.9v4.2h-0.9zM300.0 121.5h1.1v1.8h-1.1zM296.5 73.8h1.0v1.7h-1.0zM278.8 107.4h1.3v0.9h-1.3zM289.4 76.4h1.5v0.9h-1.5zM310.4 117.3h1.0v2.1h-1.0zM257.2 113.9h1.4v2.3h-1.4zM255.6 114.7h2.2v2.2h-2.2zM273.8 90.7h1.7v1.8h-1.7zM296.0 97.4h1.0v1.1h-1.0zM285.7 96.9h1.3v1.4h-1.3zM290.0 115.9h2.4v1.0h-2.4zM248.7 119.2h1.5v3.0h-1.5zM254.7 118.7h1.5v2.1h-1.5zM253.5 121.9h1.5v2.3h-1.5zM274.4 123.4h1.5v1.7h-1.5zM288.6 97.1h1.1v1.2h-1.1zM294.8 106.6h0.9v1.2h-0.9zM299.5 100.9h2.4v1.7h-2.4zM292.2 104.0h1.9v1.3h-1.9zM277.3 97.8h2.1v2.7h-2.1zM284.8 97.3h1.9v1.2h-1.9zM277.4 97.9h1.5v1.6h-1.5zM293.5 116.7h2.3v2.2h-2.3zM290.6 79.2h1.7v1.8h-1.7zM299.9 88.6h1.4v1.6h-1.4zM260.8 125.7h1.3v1.3h-1.3zM298.8 129.6h2.2v0.8h-2.2zM305.0 123.8h2.1v1.5h-2.1zM296.4 130.4h1.9v2.3h-1.9zM256.9 99.8h1.9v1.4h-1.9zM293.5 91.0h1.5v2.4h-1.5zM297.7 102.5h1.1v0.9h-1.1zM289.1 105.6h1.0v4.2h-1.0zM265.6 91.8h2.0v2.9h-2.0zM269.0 118.0h1.6v3.1h-1.6zM271.4 115.4h1.2v1.6h-1.2zM271.2 88.7h1.5v1.5h-1.5zM252.5 106.2h2.1v1.1h-2.1zM299.4 90.8h2.1v3.1h-2.1zM303.4 109.7h1.3v1.8h-1.3zM304.7 125.5h2.3v1.1h-2.3zM269.1 96.8h1.4v2.0h-1.4zM307.2 115.6h2.3v2.0h-2.3zM294.7 122.5h2.3v1.5h-2.3zM282.7 111.0h0.8v1.3h-0.8zM279.0 113.6h1.5v1.6h-1.5zM269.6 118.2h1.7v0.8h-1.7zM289.6 93.9h1.1v1.9h-1.1zM306.7 126.1h0.9v2.1h-0.9zM306.3 115.7h1.7v2.0h-1.7zM291.2 125.0h1.7v4.1h-1.7zM260.7 102.5h1.9v3.9h-1.9zM261.5 110.3h1.0v1.9h-1.0zM290.4 123.5h2.2v3.5h-2.2zM298.5 71.6h1.3v1.0h-1.3zM260.7 94.0h2.1v2.2h-2.1zM294.2 118.3h0.8v1.0h-0.8zM281.7 118.7h2.2v2.0h-2.2zM289.0 117.1h0.9v2.3h-0.9zM303.3 82.6h1.7v1.7h-1.7zM269.3 113.4h1.3v1.6h-1.3zM286.8 116.9h0.9v2.2h-0.9zM295.1 103.4h2.2v2.4h-2.2zM272.7 102.1h2.0v2.1h-2.0zM302.2 84.9h1.0v2.3h-1.0zM270.6 90.4h1.2v2.0h-1.2zM264.8 100.1h2.1v1.1h-2.1zM260.9 122.5h2.1v1.7h-2.1zM263.6 125.2h2.1v2.2h-2.1zM286.4 95.2h1.7v1.8h-1.7zM301.6 124.5h1.2v1.2h-1.2zM289.6 102.3h1.9v1.5h-1.9zM289.1 86.7h0.9v1.2h-0.9zM268.6 88.5h1.3v1.7h-1.3zM263.3 124.7h1.4v1.0h-1.4zM263.9 107.4h2.3v2.1h-2.3zM302.4 74.8h1.9v2.9h-1.9zM260.3 123.8h2.0v1.3h-2.0zM299.7 104.5h2.2v1.0h-2.2zM307.2 128.4h2.1v1.0h-2.1zM310.6 117.4h1.6v2.4h-1.6zM286.3 90.7h0.9v1.5h-0.9zM300.1 94.5h1.5v2.2h-1.5zM256.2 123.0h1.9v1.7h-1.9zM273.9 94.8h0.9v3.4h-0.9zM259.8 119.6h2.1v1.1h-2.1zM299.0 130.5h1.7v1.6h-1.7zM261.1 102.7h1.2v3.2h-1.2zM288.1 88.1h2.2v1.5h-2.2zM297.2 106.5h1.0v2.1h-1.0zM293.9 86.5h1.0v1.4h-1.0zM283.8 127.5h1.2v2.0h-1.2zM290.4 128.5h1.7v2.3h-1.7zM278.1 91.2h2.0v1.9h-2.0zM260.2 105.3h0.9v2.4h-0.9zM288.2 120.2h2.0v2.3h-2.0zM253.5 95.3h2.3v1.2h-2.3zM298.1 123.2h1.0v2.7h-1.0zM311.5 121.7h1.6v2.3h-1.6zM286.1 82.2h1.9v2.6h-1.9zM294.1 91.9h1.3v0.9h-1.3zM298.8 77.8h1.6v2.2h-1.6zM298.6 96.7h2.3v2.1h-2.3zM308.2 128.1h1.7v1.6h-1.7zM279.5 148.3h1.0v2.3h-1.0zM280.2 152.7h1.1v1.8h-1.1zM298.5 143.4h1.1v0.8h-1.1zM300.2 141.9h1.1v1.0h-1.1zM279.5 140.1h0.7v1.6h-0.7zM270.0 147.8h0.9v1.5h-0.9zM301.1 148.1h0.7v2.1h-0.7zM280.2 147.7h1.0v0.9h-1.0zM253.6 132.5h1.1v1.4h-1.1zM298.6 153.6h1.1v1.1h-1.1zM259.9 138.2h0.8v1.4h-0.8zM270.7 136.5h0.9v2.4h-0.9zM261.7 135.1h0.8v1.2h-0.8zM305.8 140.6h1.0v1.4h-1.0zM301.0 142.6h1.3v1.2h-1.3zM279.8 150.8h0.7v0.9h-0.7zM270.0 139.4h1.0v0.8h-1.0zM271.6 146.2h1.1v0.7h-1.1zM275.1 137.5h0.6v1.0h-0.6zM274.8 145.8h1.4v1.0h-1.4zM265.1 143.9h1.3v0.8h-1.3zM281.1 153.4h0.6v1.1h-0.6zM270.8 134.4h1.0v0.8h-1.0zM306.0 151.3h0.9v2.1h-0.9zM262.7 133.8h0.8v2.2h-0.8zM298.9 143.0h0.8v1.0h-0.8zM247.2 129.0h1.2v2.1h-1.2zM305.3 150.2h1.3v0.8h-1.3zM264.8 140.6h1.2v0.7h-1.2zM298.2 140.5h0.6v1.4h-0.6zM296.4 145.5h0.8v1.0h-0.8zM262.8 141.1h0.6v1.2h-0.6zM276.4 134.2h0.7v0.7h-0.7zM295.7 150.2h1.0v1.3h-1.0zM254.5 135.0h1.2v1.2h-1.2zM295.5 155.5h0.8v0.9h-0.8zM275.7 152.7h1.3v1.4h-1.3zM257.5 132.4h1.1v1.1h-1.1zM298.3 171.3h1.0v0.8h-1.0zM295.6 167.6h0.8v1.1h-0.8zM282.1 168.5h1.0v1.0h-1.0zM259.4 152.9h0.9v1.3h-0.9zM299.8 171.6h0.9v1.7h-0.9zM293.2 166.8h0.6v0.9h-0.6zM286.4 168.4h1.2v0.9h-1.2zM295.9 164.2h0.9v2.1h-0.9zM264.4 156.8h1.1v0.9h-1.1zM266.5 163.5h0.8v1.7h-0.8zM296.3 169.7h1.2v0.7h-1.2zM286.2 169.3h1.0v2.3h-1.0zM273.2 163.9h0.8v1.2h-0.8zM271.8 157.2h1.1v0.7h-1.1zM261.2 156.7h0.7v2.0h-0.7zM267.9 155.8h1.1v1.1h-1.1zM288.9 168.3h0.8v1.1h-0.8zM257.5 159.8h1.1v1.2h-1.1zM451.1 143.5h1.0v0.7h-1.0zM518.1 139.9h1.1v0.8h-1.1zM454.4 124.4h0.9v1.0h-0.9zM474.7 125.9h1.2v1.1h-1.2zM493.8 125.3h1.1v1.0h-1.1zM436.5 143.1h0.7v1.7h-0.7zM426.8 144.7h1.2v0.9h-1.2zM458.4 151.9h0.8v1.0h-0.8zM479.0 129.7h1.1v0.6h-1.1zM507.4 134.9h0.7v0.8h-0.7zM456.7 136.7h0.9v0.6h-0.9zM433.4 140.4h0.6v0.7h-0.6zM450.6 109.0h1.1v0.6h-1.1zM501.6 141.6h1.1v1.6h-1.1zM487.2 123.6h1.0v1.7h-1.0zM476.1 118.4h1.1v0.9h-1.1zM468.6 151.3h0.7v1.1h-0.7zM446.0 158.1h1.1v1.1h-1.1zM421.9 126.6h0.7v0.8h-0.7zM506.1 128.7h0.6v0.9h-0.6zM458.2 159.4h0.6v1.9h-0.6zM475.0 137.9h1.0v0.9h-1.0zM463.3 159.0h0.7v2.1h-0.7zM443.8 129.1h1.0v0.7h-1.0zM423.3 133.2h0.6v1.2h-0.6zM438.8 149.9h0.7v1.0h-0.7zM501.0 133.9h0.9v0.9h-0.9zM450.4 122.0h1.1v0.7h-1.1zM468.0 150.0h1.2v0.9h-1.2zM462.8 125.5h1.1v2.0h-1.1zM473.4 133.1h0.9v0.6h-0.9zM497.6 141.9h1.0v1.1h-1.0zM378.3 142.1h0.7v0.7h-0.7zM385.4 125.0h0.9v1.0h-0.9zM418.0 144.0h1.0v2.1h-1.0zM382.6 135.2h1.0v1.0h-1.0zM377.9 143.9h0.6v1.2h-0.6zM398.9 136.7h1.0v0.8h-1.0zM418.4 144.7h0.7v1.1h-0.7zM386.4 144.0h0.9v1.0h-0.9zM398.4 147.6h1.2v0.8h-1.2zM383.5 137.1h0.9v1.7h-0.9zM414.5 139.2h0.9v1.2h-0.9zM413.2 143.2h0.9v1.0h-0.9zM374.9 142.1h1.2v1.2h-1.2zM405.7 135.8h1.3v1.2h-1.3zM415.2 131.2h0.6v1.8h-0.6zM380.5 144.2h0.7v0.8h-0.7zM376.7 135.8h1.0v0.8h-1.0zM402.2 140.0h1.0v1.3h-1.0zM415.0 137.4h0.9v0.6h-0.9zM391.5 131.6h0.8v1.7h-0.8zM410.1 132.0h1.0v1.9h-1.0zM389.7 136.3h1.3v1.0h-1.3zM402.8 145.5h1.3v0.8h-1.3zM383.5 137.4h1.1v1.1h-1.1zM417.5 138.9h0.7v1.8h-0.7zM304.1 93.1h0.8v0.8h-0.8zM307.5 101.4h1.5v1.5h-1.5zM308.3 83.5h1.7v1.1h-1.7zM318.9 132.4h1.5v0.8h-1.5zM308.0 78.2h1.7v1.6h-1.7zM309.0 110.2h1.5v1.1h-1.5zM300.4 91.0h0.7v1.3h-0.7zM302.3 99.3h0.9v1.3h-0.9zM302.2 85.7h1.3v1.0h-1.3zM304.9 103.1h1.2v3.2h-1.2zM302.1 92.2h0.8v1.0h-0.8zM315.4 123.1h1.7v2.2h-1.7zM309.0 70.3h0.8v1.4h-0.8zM313.9 119.2h1.4v1.4h-1.4zM304.9 91.0h1.3v1.8h-1.3zM312.6 77.0h1.0v1.5h-1.0zM304.8 89.4h1.7v1.4h-1.7zM304.4 92.0h1.5v2.3h-1.5zM311.3 107.6h1.6v1.8h-1.6zM310.0 77.1h1.4v1.8h-1.4zM305.8 96.2h0.8v1.7h-0.8zM310.8 101.4h1.4v2.1h-1.4zM307.4 90.3h1.2v2.7h-1.2zM310.7 110.4h1.7v1.6h-1.7zM315.6 72.8h1.1v3.0h-1.1zM338.9 117.6h1.1v2.9h-1.1zM341.1 79.8h0.9v1.4h-0.9zM339.5 68.0h1.8v3.2h-1.8zM349.1 81.6h0.9v2.4h-0.9zM346.2 80.7h0.8v1.9h-0.8zM341.5 70.9h1.3v2.6h-1.3zM340.1 71.2h1.5v1.0h-1.5zM345.4 76.0h0.8v0.8h-0.8zM343.6 100.5h1.4v1.3h-1.4zM346.1 83.4h1.3v1.8h-1.3zM342.6 81.2h1.2v1.7h-1.2zM343.1 86.8h1.7v2.3h-1.7zM346.2 77.1h1.2v0.8h-1.2zM339.3 121.3h1.0v2.6h-1.0zM339.6 118.9h1.6v1.8h-1.6zM338.6 67.8h0.8v1.1h-0.8zM341.6 75.5h1.7v1.6h-1.7zM348.4 81.0h0.8v2.9h-0.8zM456.6 170.7h1.2v1.0h-1.2zM458.9 177.6h1.1v0.8h-1.1zM449.1 172.4h0.8v0.7h-0.8zM432.3 172.3h1.0v1.1h-1.0zM453.9 182.3h1.1v1.0h-1.1zM442.4 179.7h1.0v0.9h-1.0zM460.5 172.9h0.8v0.9h-0.8zM443.9 176.6h0.9v1.3h-0.9zM435.5 167.4h1.1v2.0h-1.1zM459.6 180.3h1.0v0.7h-1.0zM439.9 182.7h0.8v1.4h-0.8zM438.6 167.5h0.8v0.9h-0.8zM441.9 167.9h0.6v2.3h-0.6zM439.2 169.2h1.2v1.3h-1.2zM439.6 177.4h0.7v0.9h-0.7zM428.7 176.7h0.8v1.3h-0.8zM431.5 172.9h1.3v1.2h-1.3zM440.8 169.5h1.0v1.3h-1.0zM453.0 175.7h0.8v0.8h-0.8zM471.5 177.8h0.6v1.0h-0.6zM453.3 174.4h0.9v0.9h-0.9zM445.4 180.6h1.0v1.8h-1.0zM439.6 181.2h1.3v1.1h-1.3zM440.6 170.1h0.7v1.1h-0.7zM442.5 178.1h0.7v1.2h-0.7zM220.8 141.6h0.9v1.1h-0.9zM238.0 140.1h0.7v1.4h-0.7zM243.1 140.4h0.8v0.7h-0.8zM230.1 135.3h0.6v1.9h-0.6zM237.9 138.3h0.8v1.5h-0.8zM222.7 143.1h1.0v1.2h-1.0zM245.3 145.7h0.9v0.6h-0.9zM243.0 142.8h1.1v0.9h-1.1zM227.0 144.2h0.6v0.8h-0.6zM236.1 142.9h1.2v1.3h-1.2z" fill="#000"/>
<path d="M280.5 163.8L283.2 162.1L285.4 161.2L287.0 163.4L287.1 164.1L285.0 164.1L281.9 164.0Z" fill="#000"/>
<path d="M284.3 169.9L285.6 169.7L286.8 165.4L285.9 164.7L284.1 166.0L284.5 167.9Z" fill="#000"/>
<path d="M287.2 164.7L290.3 164.7L291.2 166.4L289.4 168.4L288.1 167.2L288.1 165.6Z" fill="#000"/>
<path d="M288.3 170.3L292.1 169.1L292.1 168.5L290.3 168.6L288.5 169.4Z" fill="#000"/>
<path d="M291.5 168.2L294.5 167.9L294.5 167.0L293.0 167.1Z" fill="#000"/>
<path d="M274.3 158.7L276.5 158.7L275.6 153.9L274.0 154.4Z" fill="#000"/>
<path d="M258.2 142.0L261.8 142.3L264.9 138.5L262.7 138.5L259.1 140.3Z" fill="#000"/>
<path d="M252.0 133.0L255.6 134.5L257.3 131.9L256.0 129.7L252.9 130.6Z" fill="#000"/>
<path d="M263.1 146.2L268.0 145.3L268.0 144.3L263.6 145.0Z" fill="#000"/>
<path d="M270.7 149.7L272.1 149.7L272.1 147.2L270.7 147.2Z" fill="#000"/>
<path d="M454.9 157.4L456.1 157.3L458.7 154.8L460.5 151.0L459.6 150.8L457.8 153.9L455.6 156.4Z" fill="#000"/>
<path d="M389.7 143.8L391.9 142.9L391.5 140.8L389.2 141.6Z" fill="#000"/>
<path d="M393.2 142.0L394.8 141.0L394.1 138.7L393.2 140.1Z" fill="#000"/>
<path d="M414.6 167.9L417.3 167.6L417.3 164.1L415.1 164.1Z" fill="#000"/>
<path d="M428.0 166.0L432.9 164.5L432.9 163.6L428.4 164.2Z" fill="#000"/>
<path d="M390.7 213.4L392.8 213.5L393.1 210.7L391.0 210.6Z" fill="#000"/>
<path d="M388.4 214.1L389.1 214.1L390.2 218.8L389.4 218.8Z" fill="#000"/>
<path d="M392.7 219.5L393.5 219.5L393.8 223.9L393.2 223.9Z" fill="#000"/>
<path d="M404.4 166.0L406.2 164.1L407.9 163.6L409.7 164.1L409.3 166.0L407.3 166.6L407.5 169.1L409.6 169.9L410.4 172.6L410.4 175.5L407.9 175.8L406.2 174.9L406.2 172.0L404.8 169.1Z" fill="#000"/>
</g>
<use href="#w" x="-320.8"/><use href="#w" x="320.8"/>
</g></g>
<g id="grid" stroke="#50605f" stroke-opacity="0.17" stroke-width="1" fill="none">
<path d="M122 51V371M202 51V371M282.5 51V371M362.5 51V371M442.5 51V371M523 51V371M603 51V371"/>
<path d="M91.5 107.5H633.5M91.5 166H633.5M91.5 211H633.5M91.5 256H633.5M91.5 314.5H633.5"/>
</g>
<!-- axes -->
<g stroke="#262626" stroke-width="1" fill="none">
<path d="M91.5 51V371.5H633.5V51"/>
</g>
<g id="ticks" stroke="#262626" stroke-width="1">
<path d="M122 371V366M202 371V366M282.5 371V366M362.5 371V366M442.5 371V366M523 371V366M603 371V366"/>
<path d="M91.5 107.5H96.5M91.5 166H96.5M91.5 211H96.5M91.5 256H96.5M91.5 314.5H96.5"/>
<path d="M633.5 107.5H628.5M633.5 166H628.5M633.5 211H628.5M633.5 256H628.5M633.5 314.5H628.5"/>
</g>
<g id="labels" font-size="16">
<text id="title" x="116.3" y="20.5" font-size="17" font-weight="bold" textLength="494.3" lengthAdjust="spacing">Land Surface Temperature [Day] (1 month - Terra/MODIS)</text>
<text id="sub" x="316.9" y="43" font-size="17.2" textLength="91">2001-01-01</text>
<text x="96.3" y="393.8" textLength="49.5">270°W</text>
<text x="178.8" y="393.8" textLength="48.3">180°W</text>
<text x="263.8" y="393.8" textLength="41.2">90°W</text>
<text x="360.5" y="393.8" textLength="15">0°</text>
<text x="426" y="393.8" textLength="36.6">90°E</text>
<text x="502" y="393.8" textLength="43.5">180°E</text>
<text x="582" y="393.8" textLength="44.2">270°E</text>
<text x="323.8" y="416.5" font-size="17.3" textLength="78">Longitude</text>
<g text-anchor="end">
<text x="83.9" y="113.5" textLength="36.4">75°N</text>
<text x="83.9" y="172" textLength="36.4">45°N</text>
<text x="83.9" y="216.7">0°</text>
<text x="83.9" y="261.7" textLength="35.6">45°S</text>
<text x="83.9" y="320.2" textLength="35.6">75°S</text>
</g>
<text transform="translate(37.3,241.6) rotate(-90)" font-size="17.3" textLength="62.6">Latitude</text>
</g>
<!-- scale bar -->
<g id="scalebar">
<rect x="98.8" y="324.5" width="80.6" height="19.6" fill="#fff" fill-opacity="0.5"/>
<rect x="98.8" y="344.1" width="64.6" height="19.8" fill="#fff" fill-opacity="0.5"/>
<path d="M98.8 323.6V363.9M98.8 344.1H179.4M179.4 323.6V344.1M163.4 344.1V363.9" stroke="#3a3a3a" stroke-width="1.1" fill="none"/>
<text x="103.8" y="338.5" font-size="13" textLength="57">10000 km</text>
<text x="103.1" y="357.9" font-size="13" textLength="46.3">5000 mi</text>
</g>
<!-- attribution -->
<g id="attr">
<rect x="396.4" y="352" width="234.6" height="15.6" fill="#fff" fill-opacity="0.65"/>
<text x="399" y="365.1" font-size="13" textLength="229.6">NASA Earth Observations (NEO) WMS</text>
</g>
</svg>
</body></html>
